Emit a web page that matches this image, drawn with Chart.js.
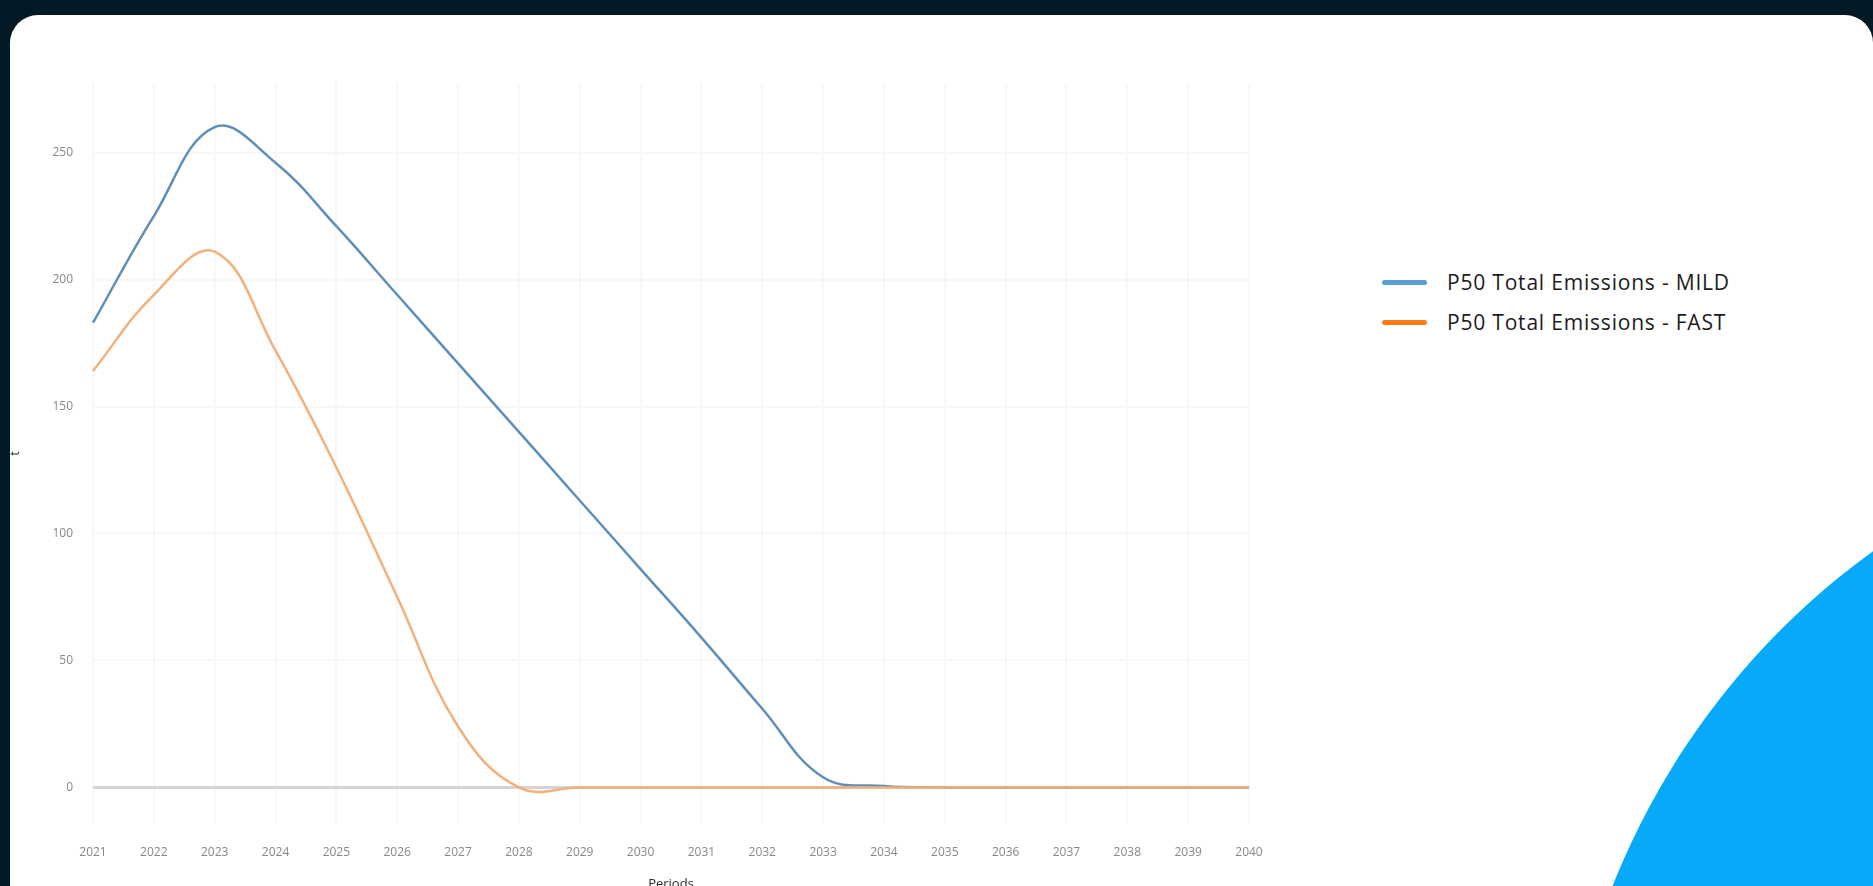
<!DOCTYPE html>
<html>
<head>
<meta charset="utf-8">
<title>P50 Total Emissions</title>
<script src="https://cdn.jsdelivr.net/npm/chart.js@4/dist/chart.umd.min.js"></script>
<style>
  html, body { margin: 0; padding: 0; width: 1873px; height: 886px; overflow: hidden; background: #031a26; font-family: "Open Sans", sans-serif; }
  .card { position: absolute; left: 10px; top: 15px; width: 1863px; height: 900px; background: #fff; border-radius: 28px 28px 0 0; overflow: hidden; }
  .blob { position: absolute; left: 1549px; top: 392px; width: 1518px; height: 1518px; border-radius: 50%; background: #06aaf9; }
  .chart-wrap { position: absolute; left: -10px; top: -15px; width: 1300px; height: 900px; }
  #emissions { filter: blur(0.6px); }
  #legend { position: absolute; left: 1372px; top: 247px; margin: 0; padding: 0; list-style: none; }
  #legend li { display: flex; align-items: center; height: 40px; font-size: 21px; letter-spacing: 0.8px; color: #1c1c1c; }
  #legend .swatch { display: inline-block; width: 45px; height: 5px; border-radius: 3px; margin-right: 20px; }
</style>
</head>
<body>
<div class="card">
  <div class="chart-wrap"><canvas id="emissions" width="1300" height="900"></canvas></div>
  <ul id="legend"></ul>
  <div class="blob"></div>
</div>
<script>
const years = ['2021', '2022', '2023', '2024', '2025', '2026', '2027', '2028', '2029', '2030',
               '2031', '2032', '2033', '2034', '2035', '2036', '2037', '2038', '2039', '2040'];

const mild = [183, 225, 260, 246, 221, 194, 167, 140, 113, 86, 59, 31, 4, 0.6, 0, 0, 0, 0, 0, 0];
const fast = [164, 194, 211, 172, 126, 75, 24, 0, 0, 0, 0, 0, 0, 0, 0, 0, 0, 0, 0, 0];

const seriesLabels = ['P50 Total Emissions - MILD', 'P50 Total Emissions - FAST'];
const lineColors = ['#5e8fba', '#f2b07a'];
const legendColors = ['#5a9dd3', '#ff7d16'];

const tickColor = '#888888';
const gridColor = '#f7f7f7';

const chart = new Chart(document.getElementById('emissions'), {
  type: 'line',
  data: {
    labels: years,
    datasets: [
      // MILD sits underneath, FAST is painted over it along the zero line
      { label: seriesLabels[0], data: mild, order: 1, borderColor: lineColors[0], borderWidth: 2.5, pointRadius: 0, tension: 0.4, fill: false },
      { label: seriesLabels[1], data: fast, order: 0, borderColor: lineColors[1], borderWidth: 2.5, pointRadius: 0, tension: 0.4, fill: false },
    ],
  },
  options: {
    responsive: false,
    animation: false,
    layout: { padding: { top: 84, right: 51, left: 0, bottom: 0 } },
    plugins: {
      legend: { display: false },
      tooltip: { enabled: false },
    },
    scales: {
      x: {
        grid: { color: gridColor, lineWidth: 2, drawTicks: false },
        border: { display: false },
        ticks: { color: tickColor, font: { family: 'Open Sans', size: 12 }, padding: 22, maxRotation: 0, autoSkip: false },
        title: { display: true, text: 'Periods', color: '#2a2a2a', font: { family: 'Open Sans', size: 13 }, padding: { top: 0, bottom: 8 } },
        afterFit: s => { s.height = 77; },
      },
      y: {
        min: -14,
        max: 277,
        grid: {
          drawTicks: false,
          color: c => c.tick && c.tick.value === 0 ? '#d4d4d4' : gridColor,
          lineWidth: c => c.tick && c.tick.value === 0 ? 3 : 2,
        },
        border: { display: false },
        ticks: { stepSize: 50, includeBounds: false, color: tickColor, font: { family: 'Open Sans', size: 12 }, padding: 20 },
        title: { display: true, text: 't', color: '#2a2a2a', font: { family: 'Open Sans', size: 13 }, padding: { top: 7, bottom: 0 } },
        afterFit: s => { s.width = 93; },
      },
    },
  },
});

// legend built from the chart's own datasets
const legendEl = document.getElementById('legend');
chart.data.datasets.forEach((ds, i) => {
  const li = document.createElement('li');
  const sw = document.createElement('span');
  sw.className = 'swatch';
  sw.style.background = legendColors[i];
  li.appendChild(sw);
  li.appendChild(document.createTextNode(ds.label));
  legendEl.appendChild(li);
});
</script>
</body>
</html>
